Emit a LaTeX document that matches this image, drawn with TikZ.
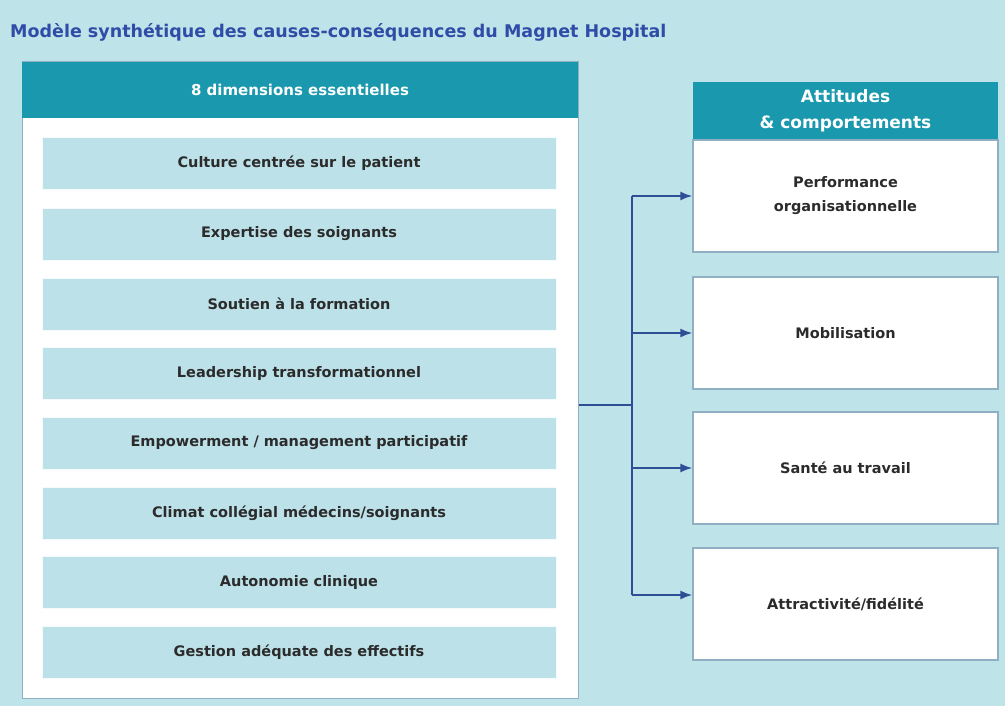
\documentclass[tikz,border=0pt]{standalone}
\usepackage{fontspec}
\setmainfont{DejaVu Sans}
\usepackage{tikz}
\usetikzlibrary{arrows.meta}
\definecolor{bg_cyan}{HTML}{BEE3E9}
\definecolor{head_teal}{HTML}{1A98AE}
\definecolor{row_cyan}{HTML}{BCE1E8}
\definecolor{edge_grey}{HTML}{8FAFC2}
\definecolor{link_blue}{HTML}{2E4F96}
\definecolor{title_blue}{HTML}{2F4CA6}
\definecolor{text_grey}{HTML}{2B2B2B}

\begin{document}
\begin{tikzpicture}[x=1pt, y=-1pt, >=Latex,
  every node/.style={font=\bfseries\fontsize{14.5}{17}\selectfont, text=text_grey},
  head/.style={fill=head_teal, text=white, align=center, inner sep=0pt,
    font=\bfseries\fontsize{15}{18}\selectfont},
  dimrow/.style={fill=row_cyan, draw=white!85!row_cyan, minimum width=514pt,
    minimum height=52pt, inner sep=0pt},
  outcome/.style={fill=white, draw=edge_grey, line width=1.2pt, minimum width=305pt,
    minimum height=112pt, align=center, inner sep=0pt},
  link/.style={link_blue, line width=2pt}]

  % background and title
  \fill[bg_cyan] (0,0) rectangle (1005,706);
  \node[anchor=base west, text=title_blue, inner sep=0pt,
    font=\bfseries\fontsize{17.5}{20}\selectfont] (title) at (10,38)
    {Modèle synthétique des causes-conséquences du Magnet Hospital};

  % left panel: the eight dimensions
  \node[fill=white, draw=edge_grey, line width=1pt, minimum width=556pt,
    minimum height=636pt, inner sep=0pt] (panel) at (300,380) {};
  \node[head, minimum width=556pt, minimum height=56pt] (dimhead) at (300,90)
    {8 dimensions essentielles};

  \node[dimrow] (d1) at (299,163) {Culture centrée sur le patient};
  \node[dimrow] (d2) at (299,234) {Expertise des soignants};
  \node[dimrow] (d3) at (299,304) {Soutien à la formation};
  \node[dimrow] (d4) at (299,373) {Leadership transformationnel};
  \node[dimrow] (d5) at (299,443) {Empowerment / management participatif};
  \node[dimrow] (d6) at (299,513) {Climat collégial médecins/soignants};
  \node[dimrow] (d7) at (299,582) {Autonomie clinique};
  \node[dimrow] (d8) at (299,652) {Gestion adéquate des effectifs};

  % right column: outcomes
  \node[head, minimum width=305pt, minimum height=58pt,
    font=\bfseries\fontsize{17}{20}\selectfont] (atthead) at (845.5,111)
    {Attitudes\\[6pt]\& comportements};
  \node[outcome] (perf) at (845.5,196) {Performance\\[7pt]organisationnelle};
  \node[outcome] (mobil) at (845.5,333) {Mobilisation};
  \node[outcome] (sante) at (845.5,468) {Santé au travail};
  \node[outcome] (attract) at (845.5,604) {Attractivité/fidélité};

  % connectors
  \coordinate (junc) at (632,405);
  \coordinate (top) at (632,196);
  \coordinate (bot) at (632,595);
  \draw[link] (panel.east |- junc) -- (junc);
  \draw[link] (top) -- (bot);
  \draw[link, ->] (top) -- (perf.west);
  \draw[link, ->] (top |- mobil) -- (mobil.west);
  \draw[link, ->] (top |- sante) -- (sante.west);
  \draw[link, ->] (bot) -- (attract.west |- bot);

\end{tikzpicture}
\end{document}
